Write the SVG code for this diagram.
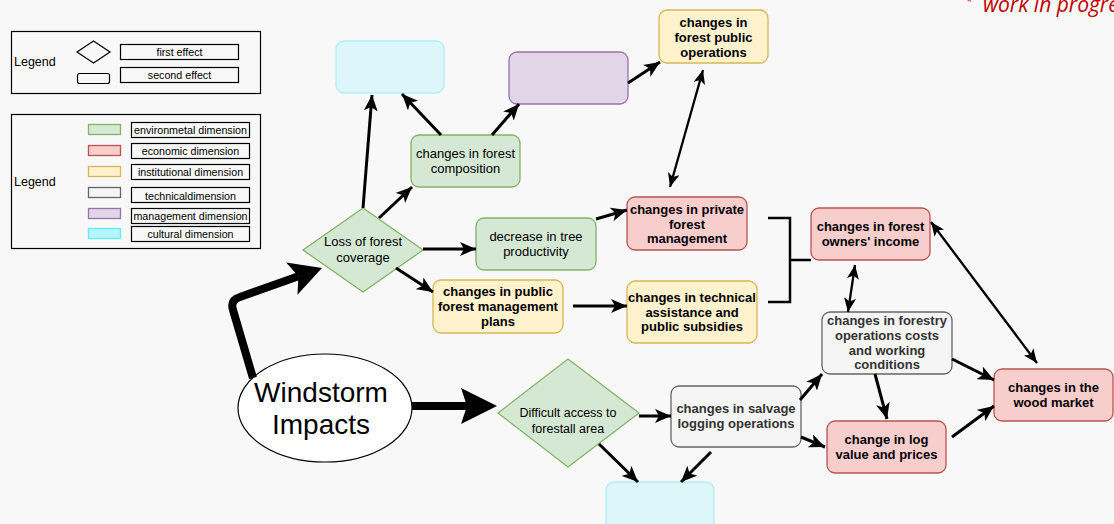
<svg xmlns="http://www.w3.org/2000/svg" width="1114" height="524" viewBox="0 0 1114 524">
<style>
text{font-family:"Liberation Sans",Arial,sans-serif;fill:#000}
.n{font-size:13px;text-anchor:middle}
.b{font-size:13px;text-anchor:middle;font-weight:bold}
.bg{font-size:13px;text-anchor:middle;font-weight:bold;fill:#333}
.lg{font-size:10.7px;text-anchor:middle}
.g{fill:#d5e8d4;stroke:#82b366;stroke-width:1.3}
.r{fill:#f8cecc;stroke:#b85450;stroke-width:1.3}
.y{fill:#fff2cc;stroke:#d6b656;stroke-width:1.3}
.t{fill:#f5f5f5;stroke:#666;stroke-width:1.3}
.p{fill:#e1d5e7;stroke:#9673a6;stroke-width:1.3}
.c{fill:#dcf6fa;stroke:#b0eef5;stroke-width:1.3}
.box{fill:none;stroke:#000;stroke-width:1.2}
.ln{fill:none;stroke:#000;stroke-width:3}
.dl{fill:none;stroke:#000;stroke-width:2.3}
.thick{fill:none;stroke:#000;stroke-width:8;stroke-linejoin:round}
</style>
<defs>
<marker id="a" markerUnits="userSpaceOnUse" markerWidth="16" markerHeight="14" refX="16" refY="7" orient="auto"><path d="M0,0 L16,7 L0,14 L4,7 Z" fill="#000"/></marker>
<marker id="d" markerUnits="userSpaceOnUse" markerWidth="14" markerHeight="12" refX="14" refY="6" orient="auto-start-reverse"><path d="M0,0 L14,6 L0,12 L3.5,6 Z" fill="#000"/></marker>
<marker id="big1" markerUnits="userSpaceOnUse" markerWidth="32" markerHeight="34" refX="7" refY="17" orient="auto"><path d="M0,0 L32,17 L0,34 L7,17 Z" fill="#000"/></marker>
<marker id="big2" markerUnits="userSpaceOnUse" markerWidth="36" markerHeight="36" refX="6" refY="18" orient="auto"><path d="M0,0 L36,18 L0,36 L6,18 Z" fill="#000"/></marker>
</defs>
<rect width="1114" height="524" fill="#f8f8f8"/>

<text x="966" y="5" style="font-family:'Open Sans',sans-serif;font-style:italic;font-size:11px;fill:#c00000">*</text>
<text x="983" y="12" style="font-family:'Open Sans',sans-serif;font-style:italic;font-size:21px;fill:#c00000">work in progress</text>

<g id="legend1">
<rect class="box" x="11.5" y="31.5" width="249" height="62"/>
<text x="14" y="66" style="font-size:12.5px">Legend</text>
<polygon points="77,52 93.5,41 110,52 93.5,63" fill="none" stroke="#000" stroke-width="1.2"/>
<rect x="77.5" y="73.5" width="32" height="10" rx="2" fill="none" stroke="#000" stroke-width="1.2"/>
<rect class="box" x="120.5" y="44.5" width="118" height="15"/>
<text class="lg" x="179.5" y="56">first effect</text>
<rect class="box" x="120.5" y="67.5" width="118" height="15"/>
<text class="lg" x="179.5" y="79">second  effect</text>
</g>

<g id="legend2">
<rect class="box" x="11.5" y="114.5" width="249" height="134"/>
<text x="14" y="186" style="font-size:12.5px">Legend</text>
<rect class="g" x="88.5" y="124.5" width="32" height="10"/>
<rect class="r" x="88.5" y="145.5" width="32" height="10"/>
<rect class="y" x="88.5" y="166.5" width="32" height="10"/>
<rect class="t" x="88.5" y="187.5" width="32" height="10"/>
<rect class="p" x="88.5" y="208.5" width="32" height="10"/>
<rect x="88.5" y="228.5" width="32" height="10" fill="#b8f4fb" stroke="#5cf0fa" stroke-width="1.3"/>
<rect class="box" x="131.5" y="122.5" width="118" height="15"/>
<text class="lg" x="190.5" y="134">environmetal dimension</text>
<rect class="box" x="131.5" y="143.5" width="118" height="15"/>
<text class="lg" x="190.5" y="155">economic dimension</text>
<rect class="box" x="131.5" y="164.5" width="118" height="15"/>
<text class="lg" x="190.5" y="176">institutional dimension</text>
<rect class="box" x="131.5" y="187.5" width="118" height="15"/>
<text class="lg" x="190.5" y="200">technicaldimension</text>
<rect class="box" x="131.5" y="208.5" width="118" height="15"/>
<text class="lg" x="190.5" y="220">management dimension</text>
<rect class="box" x="131.5" y="226.5" width="118" height="15"/>
<text class="lg" x="190.5" y="238">cultural dimension</text>
</g>

<g id="cultural-top"><rect class="c" x="336" y="41" width="108" height="52" rx="8"/></g>
<g id="management"><rect class="p" x="509" y="52" width="119" height="52" rx="8"/></g>
<g id="public-ops"><rect class="y" x="659" y="10" width="109" height="53" rx="8"/>
<text class="b" x="713.5" y="27">changes in</text><text class="b" x="713.5" y="42">forest public</text><text class="b" x="713.5" y="57">operations</text></g>
<g id="composition"><rect class="g" x="411" y="135" width="109" height="52" rx="8"/>
<text class="n" x="465.5" y="158">changes in forest</text><text class="n" x="465.5" y="173">composition</text></g>
<g id="loss"><polygon class="g" points="303,250 363,208 423,250 363,292"/>
<text class="n" x="363" y="246">Loss of forest</text><text class="n" x="363" y="262">coverage</text></g>
<g id="decrease"><rect class="g" x="476" y="218" width="120" height="52" rx="8"/>
<text class="n" x="536" y="241">decrease in tree</text><text class="n" x="536" y="256">productivity</text></g>
<g id="public-plans"><rect class="y" x="433" y="280" width="130" height="53" rx="8"/>
<text class="b" x="498" y="296">changes in public</text><text class="b" x="498" y="311">forest management</text><text class="b" x="498" y="326">plans</text></g>
<g id="private-mgmt"><rect class="r" x="627" y="197" width="120" height="53" rx="8"/>
<text class="b" x="687" y="214">changes in private</text><text class="b" x="687" y="229">forest</text><text class="b" x="687" y="243">management</text></g>
<g id="technical"><rect class="y" x="627" y="281" width="130" height="62" rx="8"/>
<text class="b" x="692" y="302">changes in technical</text><text class="b" x="692" y="317">assistance and</text><text class="b" x="692" y="331">public subsidies</text></g>
<g id="income"><rect class="r" x="811" y="208" width="119" height="52" rx="8"/>
<text class="b" x="870.5" y="231">changes in forest</text><text class="b" x="870.5" y="246">owners' income</text></g>
<g id="costs"><rect class="t" x="822" y="312" width="130" height="62" rx="8"/>
<text class="bg" x="887" y="325">changes in forestry</text><text class="bg" x="887" y="340">operations costs</text><text class="bg" x="887" y="355">and working</text><text class="bg" x="887" y="369">conditions</text></g>
<g id="wood-market"><rect class="r" x="994" y="369" width="119" height="52" rx="8"/>
<text class="b" x="1053.5" y="392">changes in the</text><text class="b" x="1053.5" y="407">wood market</text></g>
<g id="log"><rect class="r" x="827" y="421" width="119" height="52" rx="8"/>
<text class="b" x="886.5" y="444">change in log</text><text class="b" x="886.5" y="459">value and prices</text></g>
<g id="salvage"><rect class="t" x="671" y="386" width="130" height="61" rx="8"/>
<text class="bg" x="736" y="413">changes in salvage</text><text class="bg" x="736" y="428">logging operations</text></g>
<g id="difficult"><polygon class="g" points="498,413 568,359 639,413 568,467"/>
<text class="n" x="568" y="417" style="font-size:12.5px">Difficult access to</text><text class="n" x="568" y="433" style="font-size:12.5px">forestall area</text></g>
<g id="cultural-bottom"><rect class="c" x="606" y="482" width="108" height="52" rx="8"/></g>
<g id="windstorm"><ellipse cx="325" cy="408" rx="87" ry="54" fill="#fff" stroke="#000" stroke-width="1.2"/>
<text x="321" y="402" style="font-size:28px;text-anchor:middle">Windstorm</text><text x="321" y="434" style="font-size:28px;text-anchor:middle">Impacts</text></g>

<g id="connectors">
<path class="thick" d="M253,378 L233,310 Q230,300 240,297 L298.4,276.3" marker-end="url(#big1)"/>
<path class="thick" d="M412,406 L467,406" marker-end="url(#big2)"/>
<path class="ln" d="M363,208 L372,95" marker-end="url(#a)"/>
<path class="ln" d="M441,135 L402,94" marker-end="url(#a)"/>
<path class="ln" d="M492,135 L519,104" marker-end="url(#a)"/>
<path class="ln" d="M628,83 L660,62" marker-end="url(#a)"/>
<path class="dl" d="M670,187 L703,70" marker-start="url(#d)" marker-end="url(#d)"/>
<path class="ln" d="M379,218 L412,187" marker-end="url(#a)"/>
<path class="ln" d="M423,249 L476,249" marker-end="url(#a)"/>
<path class="ln" d="M396,268 L433,292" marker-end="url(#a)"/>
<path class="ln" d="M596,219 L627,210" marker-end="url(#a)"/>
<path class="ln" d="M573,306 L627,306" marker-end="url(#a)"/>
<path d="M768,218 H790 V302 H768 M790,260 H811" fill="none" stroke="#000" stroke-width="2.5"/>
<path class="dl" d="M855,265 L848,312" marker-start="url(#d)" marker-end="url(#d)"/>
<path class="dl" d="M931,222 L1037,363" marker-start="url(#d)" marker-end="url(#d)"/>
<path class="ln" d="M952,359 L994,380" marker-end="url(#a)"/>
<path class="ln" d="M875,374 L887,419" marker-end="url(#a)"/>
<path class="ln" d="M800,400 L822,374" marker-end="url(#a)"/>
<path class="ln" d="M801,437 L825,447" marker-end="url(#a)"/>
<path class="ln" d="M952,437 L994,406" marker-end="url(#a)"/>
<path class="ln" d="M639,416 L671,416" marker-end="url(#a)"/>
<path class="ln" d="M599,444 L638,482" marker-end="url(#a)"/>
<path class="ln" d="M711,452 L681,482" marker-end="url(#a)"/>
</g>
</svg>
